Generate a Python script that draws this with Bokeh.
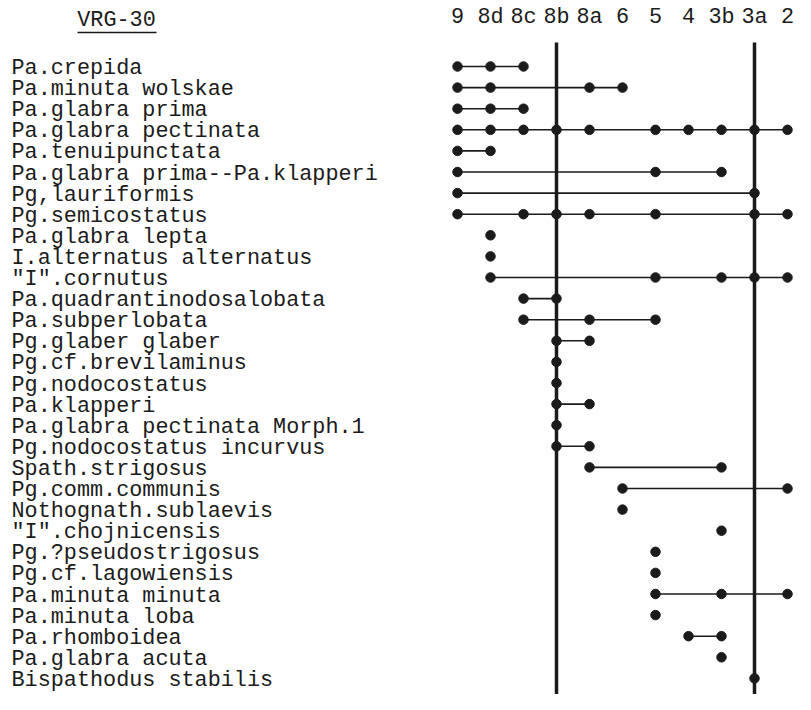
from bokeh.plotting import figure
from bokeh.models import Range1d, FixedTicker
from bokeh.core.properties import value
from bokeh.embed import file_html
from bokeh.resources import INLINE

# ---------------- data ----------------
title_text = "VRG-30"
zones = ["9", "8d", "8c", "8b", "8a", "6", "5", "4", "3b", "3a", "2"]
marked_zones = ["8b", "3a"]

species = [
    "Pa.crepida",
    "Pa.minuta wolskae",
    "Pa.glabra prima",
    "Pa.glabra pectinata",
    "Pa.tenuipunctata",
    "Pa.glabra prima--Pa.klapperi",
    "Pg,lauriformis",
    "Pg.semicostatus",
    "Pa.glabra lepta",
    "I.alternatus alternatus",
    "\"I\".cornutus",
    "Pa.quadrantinodosalobata",
    "Pa.subperlobata",
    "Pg.glaber glaber",
    "Pg.cf.brevilaminus",
    "Pg.nodocostatus",
    "Pa.klapperi",
    "Pa.glabra pectinata Morph.1",
    "Pg.nodocostatus incurvus",
    "Spath.strigosus",
    "Pg.comm.communis",
    "Nothognath.sublaevis",
    "\"I\".chojnicensis",
    "Pg.?pseudostrigosus",
    "Pg.cf.lagowiensis",
    "Pa.minuta minuta",
    "Pa.minuta loba",
    "Pa.rhomboidea",
    "Pa.glabra acuta",
    "Bispathodus stabilis",
]

occurrences = [
    ["9", "8d", "8c"],
    ["9", "8d", "8a", "6"],
    ["9", "8d", "8c"],
    ["9", "8d", "8c", "8b", "8a", "5", "4", "3b", "3a", "2"],
    ["9", "8d"],
    ["9", "5", "3b"],
    ["9", "3a"],
    ["9", "8c", "8b", "8a", "5", "3a", "2"],
    ["8d"],
    ["8d"],
    ["8d", "5", "3b", "3a", "2"],
    ["8c", "8b"],
    ["8c", "8a", "5"],
    ["8b", "8a"],
    ["8b"],
    ["8b"],
    ["8b", "8a"],
    ["8b"],
    ["8b", "8a"],
    ["8a", "3b"],
    ["6", "2"],
    ["6"],
    ["3b"],
    ["5"],
    ["5"],
    ["5", "3b", "2"],
    ["5"],
    ["4", "3b"],
    ["3b"],
    ["3a"],
]

# ---------------- layout constants (pixels) ----------------
W, H = 795, 694
X0_PX = 457.0      # pixel x of first zone column
U = 33.0           # pixels per zone column
ROW0_PX = 66.0     # pixel y of first species row
ROW_STEP = 21.1    # pixels per row
FONT = value("Liberation Mono")
FSIZE = "21.8px"
INK = "#1b1b1b"


def px_to_x(px):
    return (px - X0_PX) / U


def px_to_y(py):
    return (py - ROW0_PX) / ROW_STEP


zidx = {z: i for i, z in enumerate(zones)}

p = figure(width=W, height=H, output_backend="svg", toolbar_location=None,
           x_axis_location="above", y_axis_location=None,
           x_range=Range1d(px_to_x(0), px_to_x(W)),
           y_range=Range1d(px_to_y(H), px_to_y(0)),
           min_border_left=0, min_border_right=0,
           min_border_top=0, min_border_bottom=0)
p.outline_line_color = None
p.xgrid.visible = False
p.ygrid.visible = False
p.background_fill_color = "white"

# zone header as an axis drawn inside the frame
ax = p.xaxis[0]
ax.fixed_location = px_to_y(33.5)
ax.ticker = FixedTicker(ticks=list(range(len(zones))))
ax.major_label_overrides = {i: z for i, z in enumerate(zones)}
ax.axis_line_color = None
ax.major_tick_line_color = None
ax.minor_tick_line_color = None
ax.major_tick_out = 0
ax.major_tick_in = 0
ax.major_label_standoff = 4
ax.major_label_text_font = "Liberation Mono"
ax.major_label_text_font_size = FSIZE
ax.major_label_text_color = INK

# title with underline
p.text(x=[px_to_x(116)], y=[px_to_y(20)], text=[title_text],
       text_font=FONT, text_font_size=FSIZE, text_color=INK,
       text_align="center", text_baseline="middle")
p.segment(x0=[px_to_x(77)], y0=[px_to_y(32)], x1=[px_to_x(156)], y1=[px_to_y(32)],
          line_color=INK, line_width=1.6)

# species names
rows_idx = list(range(len(species)))
p.text(x=[px_to_x(11)] * len(species), y=rows_idx, text=species,
       text_font=FONT, text_font_size=FSIZE, text_color=INK,
       text_align="left", text_baseline="alphabetic", y_offset=2)

# vertical marker lines
mx = [zidx[z] for z in marked_zones]
p.segment(x0=mx, y0=[px_to_y(42)] * len(mx), x1=mx, y1=[px_to_y(H + 10)] * len(mx),
          line_color=INK, line_width=3.5)

# range lines
sx0, sx1, sy = [], [], []
for i, occ in enumerate(occurrences):
    ids = [zidx[z] for z in occ]
    if len(ids) > 1:
        sx0.append(min(ids)); sx1.append(max(ids)); sy.append(i)
p.segment(x0=sx0, y0=sy, x1=sx1, y1=sy, line_color=INK, line_width=1.6)

# occurrence dots
px, py = [], []
for i, occ in enumerate(occurrences):
    for z in occ:
        px.append(zidx[z]); py.append(i)
p.scatter(x=px, y=py, size=9.5, marker="circle", fill_color=INK, line_color=INK)

open("out.html", "w").write(file_html(p, INLINE))
